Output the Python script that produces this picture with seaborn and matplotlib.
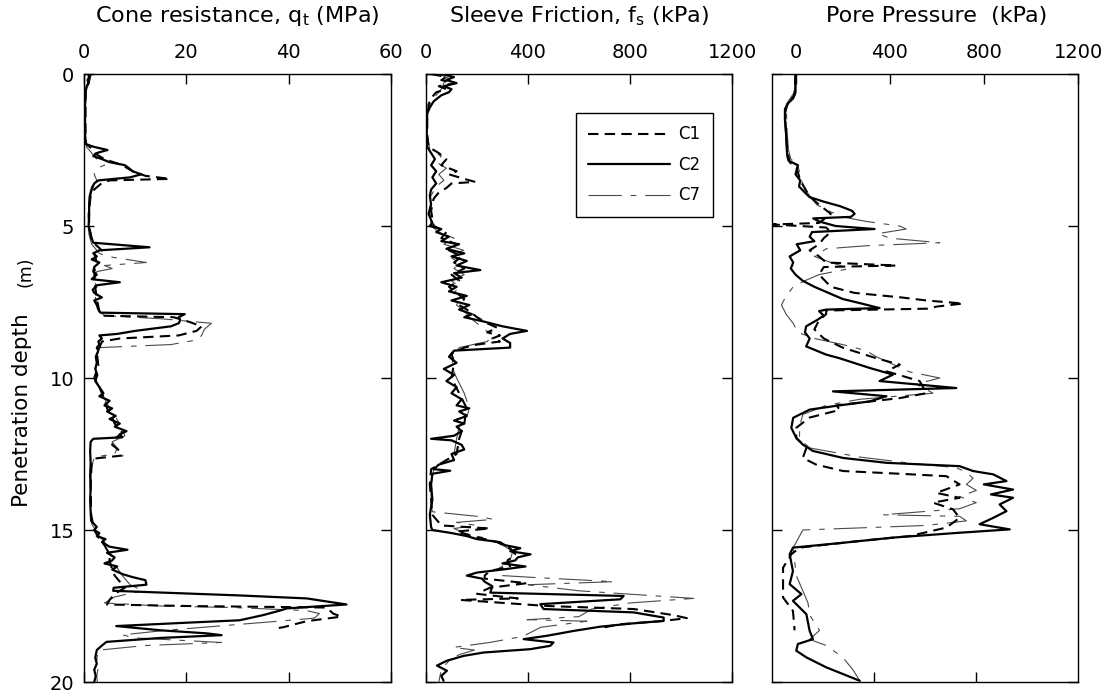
import numpy as np
import pandas as pd
import matplotlib
matplotlib.use("Agg")
import matplotlib.pyplot as plt
import seaborn as sns

# ---------------- data ----------------
# Panel 1: cone resistance qt (MPa)
qt_c1_depth = [0.0, 0.2, 0.4, 0.6, 1.0, 2.0, 2.3, 2.45, 2.6, 2.8, 3.0, 3.2, 3.35, 3.45, 3.5, 3.6, 3.8, 4.0, 4.5, 5.0,
               5.5, 5.8, 5.9, 6.2, 6.5, 7.0, 7.4, 7.8, 7.95, 8.0, 8.15, 8.3, 8.45, 8.6, 8.7, 8.8, 9.0, 9.3, 9.6, 10.0,
               10.3, 10.5, 10.8, 11.0, 11.3, 11.5, 11.8, 12.0, 12.2, 12.4, 12.55, 12.65, 12.8, 13.5, 14.5, 15.0, 15.3,
               15.5, 15.8, 16.0, 16.3, 16.5, 16.7, 16.9, 17.1, 17.3, 17.45, 17.5, 17.55, 17.75, 17.85, 18.0, 18.2, 18.25]
qt_c1 = [1.2, 1.0, 0.6, 0.3, 0.3, 0.3, 0.4, 1.5, 2.0, 4.0, 7.5, 9.5, 12.0, 16.8, 5.0, 3.4, 2.0, 1.3, 1.0, 1.0,
         1.5, 3.5, 2.0, 2.5, 2.0, 2.2, 2.5, 3.0, 3.5, 17.5, 20.5, 23.0, 22.0, 18.5, 7.0, 3.5, 3.0, 2.6, 2.8, 2.0,
         3.0, 3.5, 4.2, 4.5, 5.5, 6.0, 7.5, 6.0, 5.5, 7.0, 7.5, 2.0, 1.5, 1.3, 1.4, 2.0, 3.0,
         4.0, 5.0, 5.0, 5.5, 6.0, 7.0, 8.0, 6.0, 5.0, 4.5, 20.0, 47.4, 48.7, 50.3, 43.5, 38.9, 37.0]

qt_c2_depth = [0.0, 0.1, 0.2, 0.3, 0.4, 0.6, 1.0, 1.5, 2.0, 2.3, 2.4, 2.5, 2.6, 2.7, 2.8, 2.9, 3.0, 3.1, 3.2, 3.3,
               3.4, 3.5, 3.6, 3.8, 4.0, 4.3, 4.6, 5.0, 5.2, 5.4, 5.55, 5.7, 5.8, 5.9, 6.0, 6.1, 6.2, 6.35, 6.5, 6.6,
               6.75, 6.85, 6.95, 7.1, 7.2, 7.35, 7.45, 7.6, 7.75, 7.85, 7.9, 8.0, 8.1, 8.2, 8.3, 8.45, 8.55, 8.6, 8.7,
               8.8, 8.9, 9.0, 9.1, 9.3, 9.5, 9.7, 9.9, 10.1, 10.3, 10.5, 10.6, 10.75, 10.9, 11.0, 11.1, 11.25, 11.35,
               11.5, 11.6, 11.75, 11.85, 11.95, 12.0, 12.1, 12.4, 12.8, 13.2, 13.6, 14.0, 14.4, 14.7, 14.9, 15.0, 15.1,
               15.2, 15.3, 15.4, 15.55, 15.65, 15.75, 15.9, 16.0, 16.1, 16.2, 16.3, 16.45, 16.55, 16.65, 16.8, 16.9,
               17.0, 17.15, 17.25, 17.45, 17.58, 17.65, 17.8, 17.97, 18.05, 18.16, 18.3, 18.4, 18.46, 18.55, 18.68,
               18.8, 18.95, 19.2, 19.4, 19.6, 19.8, 20.0]
qt_c2 = [0.8, 1.0, 0.7, 0.9, 0.5, 0.3, 0.2, 0.2, 0.2, 0.3, 2.0, 4.6, 2.5, 1.8, 3.5, 5.0, 8.0, 8.8, 9.5, 11.2,
         9.0, 2.8, 2.0, 1.5, 1.2, 1.0, 1.0, 0.9, 1.2, 1.5, 1.8, 12.8, 3.0, 1.8, 2.5, 1.5, 3.0, 2.0, 1.8, 2.5,
         1.5, 7.0, 2.5, 1.7, 2.0, 3.5, 2.0, 2.5, 2.8, 3.2, 19.7, 18.5, 18.8, 18.5, 17.0, 10.0, 6.5, 3.0, 3.5,
         2.8, 3.0, 2.5, 2.8, 2.3, 2.5, 2.2, 2.6, 2.2, 3.0, 3.8, 3.0, 5.0, 4.0, 5.5, 4.5, 6.2, 5.0,
         7.0, 6.0, 8.3, 7.0, 7.5, 1.8, 1.3, 1.2, 1.3, 1.2, 1.3, 1.2, 1.3, 1.4, 2.5, 2.0, 3.0,
         2.5, 4.2, 3.5, 5.0, 8.5, 4.5, 6.0, 5.5, 4.0, 6.5, 5.5, 7.5, 9.5, 12.0, 12.2, 5.8,
         5.7, 30.0, 43.5, 51.3, 39.6, 38.3, 35.0, 30.4, 20.0, 6.3, 15.0, 24.0, 26.9, 15.0, 4.4,
         3.5, 2.5, 2.2, 2.5, 2.0, 2.3, 2.0]

qt_c7_depth = [0.0, 0.15, 0.3, 0.5, 1.0, 2.0, 2.4, 2.5, 2.7, 2.9, 3.0, 3.1, 3.3, 3.5, 3.7, 4.0, 4.5, 5.0, 5.3, 5.6,
               5.9, 6.0, 6.2, 6.3, 6.4, 6.5, 6.8, 7.0, 7.4, 7.8, 7.95, 8.05, 8.2, 8.4, 8.6, 8.75, 8.9, 9.0, 9.3, 9.6,
               10.0, 10.5, 11.0, 11.5, 11.9, 12.1, 12.3, 12.5, 12.6, 13.0, 14.0, 14.8, 15.2, 15.6, 16.0, 16.5, 16.8,
               17.0, 17.2, 17.4, 17.5, 17.55, 17.65, 17.75, 17.9, 18.0, 18.15, 18.3, 18.45, 18.55, 18.7, 18.8, 18.95,
               19.2, 19.5, 19.8, 20.0]
qt_c7 = [1.5, 1.2, 1.0, 0.5, 0.3, 0.3, 0.5, 1.0, 2.0, 3.0, 4.0, 2.5, 2.0, 2.5, 1.5, 1.0, 0.8, 0.8, 1.0, 1.5,
         3.0, 4.5, 12.2, 4.0, 5.5, 2.5, 2.0, 2.5, 2.2, 3.0, 4.0, 15.0, 24.9, 23.5, 23.0, 22.0, 17.0, 3.0, 2.5, 2.4,
         2.2, 3.5, 5.0, 7.0, 8.0, 5.5, 6.5, 6.0, 2.0, 1.4, 1.3, 1.5, 3.0, 5.0, 5.5, 7.5, 9.0,
         11.5, 6.0, 4.0, 15.0, 29.0, 43.5, 46.0, 45.0, 38.0, 27.0, 16.0, 7.5, 10.0, 26.9, 12.0, 3.0,
         2.5, 2.8, 2.5, 2.6]

# Panel 2: sleeve friction fs (kPa)
fs_c1_depth = [0.0, 0.1, 0.2, 0.3, 0.4, 0.5, 0.6, 0.8, 1.0, 1.5, 2.0, 2.4, 2.6, 2.8, 3.0, 3.2, 3.3, 3.45, 3.55, 3.6,
               3.75, 3.9, 4.1, 4.5, 5.0, 5.2, 5.4, 5.6, 5.8, 6.0, 6.2, 6.4, 6.6, 6.8, 7.0, 7.2, 7.4, 7.6, 7.8, 8.0,
               8.2, 8.35, 8.5, 8.6, 8.7, 8.8, 8.9, 9.0, 9.2, 9.5, 10.0, 10.5, 11.0, 11.5, 12.0, 12.5, 12.8, 13.0, 13.5,
               14.0, 14.5, 14.85, 14.95, 15.05, 15.2, 15.4, 15.6, 15.8, 16.0, 16.2, 16.35, 16.5, 16.6, 16.75, 16.9,
               17.1, 17.25, 17.3, 17.5, 17.6, 17.8, 17.9, 18.0, 18.1, 18.2]
fs_c1 = [20, 80, 60, 115, 50, 80, 40, 20, 10, 5, 5, 10, 50, 80, 60, 120, 90, 150, 193, 100,
         80, 50, 30, 20, 30, 80, 60, 120, 90, 140, 110, 150, 100, 130, 90, 120, 150, 130, 170, 200,
         240, 280, 240, 290, 260, 290, 200, 150, 100, 110, 100, 130, 160, 150, 130, 120, 60, 20, 15,
         20, 25, 60, 250, 120, 180, 280, 330, 350, 320, 330, 250, 230, 230, 395, 250,
         200, 360, 135, 476, 815, 970, 1023, 920, 760, 700]

fs_c2_depth = [0.0, 0.1, 0.2, 0.3, 0.4, 0.5, 0.6, 0.7, 0.9, 1.1, 1.3, 1.6, 2.0, 2.4, 2.6, 2.8, 3.0, 3.2, 3.4, 3.6,
               3.8, 4.0, 4.3, 4.6, 4.9, 5.0, 5.1, 5.2, 5.35, 5.5, 5.6, 5.75, 5.9, 6.0, 6.15, 6.3, 6.45, 6.55, 6.7,
               6.85, 7.0, 7.15, 7.3, 7.45, 7.6, 7.75, 7.9, 8.0, 8.15, 8.3, 8.45, 8.55, 8.7, 8.85, 9.0, 9.1, 9.3, 9.5,
               9.7, 9.9, 10.1, 10.3, 10.5, 10.7, 10.9, 11.0, 11.1, 11.25, 11.4, 11.5, 11.6, 11.75, 11.9, 12.0, 12.05,
               12.2, 12.35, 12.5, 12.7, 12.85, 13.0, 13.05, 13.15, 13.5, 14.0, 14.5, 14.9, 15.0, 15.1, 15.2, 15.3,
               15.4, 15.5, 15.6, 15.7, 15.8, 15.9, 16.0, 16.1, 16.2, 16.3, 16.4, 16.5, 16.6, 16.7, 16.85, 17.06,
               17.17, 17.28, 17.44, 17.6, 17.71, 17.88, 17.99, 18.07, 18.18, 18.32, 18.48, 18.59, 18.7, 18.81, 18.92,
               19.03, 19.14, 19.3, 19.46, 19.63, 19.8, 19.96]
fs_c2 = [60, 110, 80, 120, 70, 100, 90, 60, 30, 15, 5, 3, 2, 5, 20, 35, 20, 40, 25, 40,
         20, 15, 20, 10, 25, 15, 60, 40, 90, 60, 130, 80, 150, 100, 160, 120, 213, 110, 140,
         60, 120, 90, 160, 100, 170, 130, 180, 150, 230, 300, 396, 330, 300, 330, 330, 110, 90, 120,
         70, 110, 80, 120, 100, 140, 120, 170, 130, 160, 110, 150, 120, 140, 110, 20, 100,
         140, 150, 100, 110, 50, 30, 95, 25, 20, 25, 15, 20, 25, 100, 160, 200,
         290, 310, 370, 330, 410, 360, 350, 300, 390, 300, 200, 160, 220, 230, 260, 252,
         775, 762, 448, 461, 814, 932, 932, 814, 684, 579, 474, 383, 500, 487, 409,
         226, 148, 82, 43, 82, 60, 69]

fs_c7_depth = [0.0, 0.15, 0.3, 0.5, 0.7, 1.0, 1.5, 2.0, 2.5, 2.7, 2.9, 3.1, 3.3, 3.5, 3.7, 4.0, 4.5, 5.0, 5.2, 5.4,
               5.6, 5.8, 6.0, 6.2, 6.4, 6.6, 6.8, 7.0, 7.2, 7.4, 7.6, 7.8, 8.0, 8.2, 8.4, 8.6, 8.8, 9.0, 9.3, 9.6,
               10.0, 10.5, 11.0, 11.3, 11.6, 12.0, 12.5, 13.0, 13.5, 14.0, 14.4, 14.55, 14.65, 14.75, 14.85, 14.95,
               15.1, 15.3, 15.5, 15.7, 16.0, 16.3, 16.5, 16.56, 16.7, 16.8, 17.0, 17.25, 17.4, 17.6, 17.85, 17.95,
               18.0, 18.2, 18.5, 18.7, 18.86, 18.95, 19.1, 19.3, 19.6, 20.0]
fs_c7 = [50, 90, 70, 60, 40, 15, 5, 5, 15, 60, 40, 80, 50, 70, 40, 20, 15, 20, 50, 110,
         70, 148, 90, 130, 110, 150, 100, 130, 110, 130, 120, 150, 170, 200, 230, 260, 240, 130, 110, 100,
         120, 150, 170, 160, 130, 120, 110, 30, 20, 20, 25, 200, 265, 120, 200, 110,
         150, 250, 300, 340, 330, 280, 300, 422, 736, 400, 600, 1050, 800, 650, 600, 396,
         631, 450, 380, 250, 108, 190, 130, 90, 60, 50]

# Panel 3: pore pressure u (kPa)
u_c1_depth = [0.0, 0.7, 1.0, 1.3, 2.0, 2.5, 2.9, 3.1, 3.5, 3.9, 4.1, 4.3, 4.6, 4.9, 4.95, 5.05, 5.2, 5.4, 5.6, 5.8,
              6.0, 6.2, 6.3, 6.35, 6.6, 7.0, 7.2, 7.35, 7.45, 7.55, 7.65, 7.72, 7.78, 7.9, 8.1, 8.4, 8.7, 9.0, 9.35,
              9.56, 9.78, 10.1, 10.5, 10.66, 10.9, 11.05, 11.3, 11.64, 11.97, 12.3, 12.63, 12.85, 13.06, 13.15, 13.23,
              13.5, 13.78, 13.94, 14.1, 14.32, 14.6, 14.92, 15.2, 15.36, 15.58, 15.8, 16.24, 17.22, 17.66, 18.3]
u_c1 = [0, -5, -35, -45, -40, -35, -25, 5, 20, 50, 70, 100, 150, 100, -96, 130, 150, 120, 100, 60,
        100, 130, 428, 120, 100, 150, 250, 450, 556, 712, 600, 560, 130, 130, 100, 80, 120, 200, 343,
        443, 386, 527, 556, 443, 174, 188, 60, 3, 3, 46, 31, 88, 202, 443, 641,
        697, 598, 697, 584, 669, 697, 641, 485, 273, 17, -18, -53, -53, -11, -4]

u_c2_depth = [0.0, 0.6, 0.8, 0.95, 1.15, 1.5, 2.0, 2.4, 2.7, 2.85, 3.0, 3.3, 3.5, 3.7, 3.9, 4.05, 4.2, 4.35, 4.5, 4.6,
              4.7, 4.75, 4.85, 5.0, 5.1, 5.2, 5.35, 5.5, 5.6, 5.8, 6.0, 6.2, 6.4, 6.6, 6.8, 7.0, 7.2, 7.4, 7.55,
              7.7, 7.75, 7.8, 7.95, 8.1, 8.3, 8.5, 8.7, 8.96, 9.23, 9.35, 9.67, 9.89, 10.1, 10.33, 10.44, 10.6,
              10.77, 10.9, 11.04, 11.31, 11.64, 11.97, 12.19, 12.4, 12.63, 12.79, 12.9, 13.06, 13.17, 13.39, 13.5,
              13.67, 13.83, 13.94, 14.16, 14.38, 14.6, 14.81, 14.98, 15.09, 15.25, 15.42, 15.58, 15.8, 16.35,
              16.78, 17.11, 17.33, 17.77, 18.32, 18.59, 18.75, 18.97, 19.19, 19.52, 19.74, 19.96]
u_c2 = [0, 0, -10, -30, -45, -45, -40, -38, -35, -30, 10, 0, 20, 15, 40, 60, 120, 190, 240, 251,
        235, 75, 100, 170, 336, 70, 60, 80, 5, 20, -25, -10, -20, 0, 30, 80, 140, 200, 280,
        357, 130, 100, 120, 90, 45, 40, 60, 45, 130, 187, 315, 414, 357, 683, 159, 386,
        315, 187, 60, -10, -18, 3, 31, 74, 202, 386, 697, 754, 840, 896, 800,
        924, 830, 924, 867, 896, 840, 782, 910, 697, 414, 202, -11, -25, -11,
        -25, 25, -11, 46, 60, 74, 10, 3, 46, 131, 202, 273]

u_c7_depth = [0.0, 0.6, 1.0, 2.0, 2.5, 2.8, 3.0, 3.5, 3.8, 4.1, 4.3, 4.5, 4.7, 4.85, 5.0, 5.1, 5.25, 5.4, 5.55, 5.65,
              5.75, 6.0, 6.2, 6.4, 6.6, 6.8, 7.0, 7.3, 7.6, 7.9, 8.2, 8.5, 8.7, 8.9, 9.1, 9.3, 9.5, 9.8, 10.0,
              10.2, 10.5, 10.7, 10.9, 11.2, 11.6, 12.0, 12.3, 12.6, 12.8, 12.95, 13.1, 13.3, 13.5, 13.7, 13.9, 14.1,
              14.3, 14.5, 14.55, 14.7, 14.85, 15.0, 15.2, 15.6, 16.0, 16.5, 17.0, 17.4, 17.8, 18.3, 18.6, 18.8,
              19.2, 19.6, 19.96]
u_c7 = [0, -5, -40, -35, -30, -20, 10, 25, 40, 70, 90, 140, 200, 300, 442, 470, 350, 400, 612, 300,
        130, 80, 150, 230, 100, 40, -10, -40, -60, -40, -10, 10, 80, 200, 300, 343, 400, 485, 613,
        513, 584, 273, 131, 31, 17, 17, 60, 273, 485, 683, 726, 754, 726, 768, 697, 768,
        697, 372, 697, 726, 556, 31, 17, -11, -4, 3, 31, 53, 60, 102, 60, 131,
        202, 244, 273]

series_names = ["C1", "C2", "C7"]
panel_titles = ["Cone resistance, q$_\\mathrm{t}$ (MPa)",
                "Sleeve Friction, f$_\\mathrm{s}$ (kPa)",
                "Pore Pressure  (kPa)"]
depth_ticks = [0, 5, 10, 15, 20]
qt_ticks = [0, 20, 40, 60]
fs_ticks = [0, 400, 800, 1200]
u_ticks = [0, 400, 800, 1200]

# ---------------- style ----------------
sns.set_style("ticks")
plt.rcParams["font.family"] = ["DejaVu Sans"]
plt.rcParams["mathtext.fontset"] = "dejavusans"
for k in ("text.color", "axes.labelcolor", "xtick.color", "ytick.color", "axes.edgecolor"):
    plt.rcParams[k] = "black"

W, H = 1112, 696
fig = plt.figure(figsize=(W / 100, H / 100), dpi=100)

def px_axes(left, right, top, bottom):
    return fig.add_axes([left / W, 1 - bottom / H, (right - left) / W, (bottom - top) / H])

ax1 = px_axes(84, 391, 74, 682)
ax2 = px_axes(426, 732, 74, 682)
ax3 = px_axes(772, 1078, 74, 682)

styles = {
    "C1": dict(color="black", lw=1.5, linestyle=(0, (5, 3))),
    "C2": dict(color="black", lw=1.6, linestyle="-"),
    "C7": dict(color="#4a4a4a", lw=0.8, linestyle=(0, (30, 8, 5, 8))),
}

panels = [
    (ax1, {"C1": (qt_c1_depth, qt_c1), "C2": (qt_c2_depth, qt_c2), "C7": (qt_c7_depth, qt_c7)}),
    (ax2, {"C1": (fs_c1_depth, fs_c1), "C2": (fs_c2_depth, fs_c2), "C7": (fs_c7_depth, fs_c7)}),
    (ax3, {"C1": (u_c1_depth, u_c1), "C2": (u_c2_depth, u_c2), "C7": (u_c7_depth, u_c7)}),
]

for ax, data in panels:
    for name in ["C7", "C1", "C2"]:
        d, v = data[name]
        df = pd.DataFrame({"depth": d, "value": v})
        sns.lineplot(data=df, x="value", y="depth", orient="y", sort=False, estimator=None,
                     ax=ax, label=name if ax is ax2 else None, legend=False, **styles[name])

tick_fs = 14
for ax in (ax1, ax2, ax3):
    ax.set_ylim(20, 0)
    ax.set_yticks(depth_ticks)
    ax.set_xlabel("")
    ax.set_ylabel("")
    for sp in ax.spines.values():
        sp.set_visible(True)
        sp.set_linewidth(1.0)
        sp.set_color("black")
    ax.tick_params(axis="both", direction="in", length=7, width=1.0, color="black",
                   labelcolor="black", top=True, bottom=True, left=True, right=True,
                   labeltop=True, labelbottom=False, labelsize=tick_fs)
    ax.tick_params(axis="x", pad=9)
    ax.tick_params(axis="y", pad=7)

ax1.set_xlim(0, 60)
ax1.set_xticks(qt_ticks)
ax2.set_xlim(0, 1200)
ax2.set_xticks(fs_ticks)
ax2.tick_params(axis="y", labelleft=False)
ax3.set_xlim(-100, 1200)
ax3.set_xticks(u_ticks)
ax3.tick_params(axis="y", labelleft=False)
ax3.tick_params(axis="x", bottom=False)
sec = ax3.secondary_xaxis("bottom", functions=(lambda u: (u + 100) * 1200 / 1300,
                                               lambda b: b * 1300 / 1200 - 100))
sec.set_xticks([400, 800])
sec.tick_params(direction="in", length=7, width=1.0, color="black", labelbottom=False)
sec.spines["bottom"].set_visible(False)

# titles
title_fs = 16
for ax, t, cx in zip((ax1, ax2, ax3), panel_titles, (237, 579, 937)):
    fig.text(cx / W, 1 - 22 / H, t, ha="center", va="baseline", fontsize=title_fs, color="black")

fig.text(22 / W, 1 - 410 / H, "Penetration depth", rotation=90, ha="center", va="center",
         fontsize=15.5, color="black")
fig.text(25 / W, 1 - 272 / H, "(m)", rotation=90, ha="center", va="center", fontsize=12.5, color="black")

handles, labels = ax2.get_legend_handles_labels()
order = [labels.index(n) for n in series_names]
leg = ax2.legend([handles[i] for i in order], series_names, loc="upper left",
                 bbox_to_anchor=(0.49, 0.936), borderaxespad=0, fontsize=12, handlelength=4.9,
                 handletextpad=0.5, labelspacing=0.75, borderpad=0.75, fancybox=False,
                 framealpha=1, edgecolor="black")
leg.get_frame().set_linewidth(1.0)
for txt in leg.get_texts():
    txt.set_color("black")

fig.savefig("out.png", dpi=100)
